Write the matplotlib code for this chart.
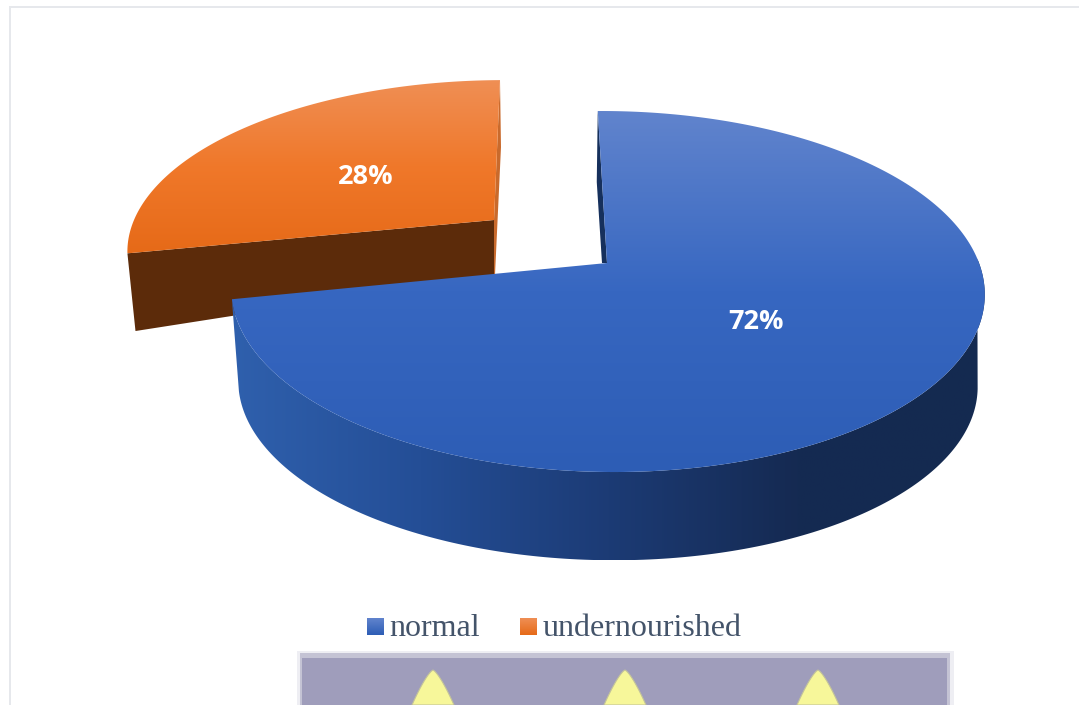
import numpy as np
import matplotlib
matplotlib.use('Agg')
import matplotlib.pyplot as plt
from matplotlib.colors import LinearSegmentedColormap
from matplotlib.patches import Polygon, Rectangle

categories = ['normal', 'undernourished']
shares = [72, 28]
labels = ['72%', '28%']

W, H = 1079, 705
START = -0.7
PERSP = 0.158


def project(theta, apex, a, b, shear=0.0):
    # titik pada lingkaran satuan -> layar, dengan perspektif sederhana
    t = np.radians(theta)
    u, v = np.sin(t), np.cos(t)
    d = 1 + PERSP * v
    y = -b * v / d
    x = a * u / d + shear * y
    return apex[0] + x, apex[1] + y


def gradient_fill(ax, pts, stops, horizontal=False, zorder=1):
    pts = np.asarray(pts)
    cmap = LinearSegmentedColormap.from_list('g', stops)
    x0, x1 = pts[:, 0].min(), pts[:, 0].max()
    y0, y1 = pts[:, 1].min(), pts[:, 1].max()
    g = np.linspace(0, 1, 256)
    g = g.reshape(1, -1) if horizontal else g.reshape(-1, 1)
    im = ax.imshow(g, cmap=cmap, extent=(x0, x1, y1, y0), aspect='auto',
                   vmin=0, vmax=1, zorder=zorder, interpolation='bilinear')
    patch = Polygon(pts, closed=True, transform=ax.transData, fc='none', ec='none')
    ax.add_patch(patch)
    im.set_clip_path(patch)


fig = plt.figure(figsize=(W / 100, H / 100), dpi=100)
ax = fig.add_axes([0, 0, 1, 1])
ax.set_xlim(0, W)
ax.set_ylim(H, 0)
ax.axis('off')

# bingkai
ax.add_patch(Rectangle((9, 6), W - 9, 2, fc='#e6e8ec', ec='none'))
ax.add_patch(Rectangle((9, 6), 2, H - 6, fc='#e6e8ec', ec='none'))

edges = START + np.cumsum([0] + shares) * 3.6
blue_th = np.linspace(edges[0], edges[1], 300)
orange_th = np.linspace(edges[1], edges[2], 120)

# irisan oranye (terpisah)
apex_o = (494, 220)
ox, oy = project(orange_th, apex_o, 360, 162, shear=-0.07)
low_apex_o = (494, 275)
low_x = apex_o[0] + (ox[0] - apex_o[0]) * 0.978
low_y = low_apex_o[1] + (oy[0] - apex_o[1]) * 1.68
ax.add_patch(Polygon([apex_o, (ox[0], oy[0]), (low_x, low_y), low_apex_o],
                     closed=True, fc='#5c2b0a', ec='none', zorder=2))
ax.add_patch(Polygon([(ox[-1], oy[-1]), (ox[-1] + 1, oy[-1] + 67),
                      (low_apex_o[0] + 1, low_apex_o[1]), low_apex_o, apex_o],
                     closed=True, fc='#c96a2c', ec='none', zorder=2))
gradient_fill(ax, list(zip(ox, oy)) + [apex_o],
              ['#ef8f55', '#f0782a', '#e66a18'], zorder=3)

# irisan biru: dinding lalu permukaan atas
apex_b = (607, 263)
SHEAR = 0.035
bx, by = project(blue_th, apex_b, 372, 176, shear=SHEAR)
lx, ly = project(blue_th, (apex_b[0], apex_b[1] + 93), 365, 172, shear=SHEAR)
rim_part = blue_th >= 88
low_part = blue_th >= 100
side = list(zip(bx[rim_part], by[rim_part])) + list(zip(lx[low_part][::-1], ly[low_part][::-1]))
gradient_fill(ax, side, ['#2f60ad', '#244e96', '#1c3b75', '#152a52', '#142a50'],
              horizontal=True, zorder=4)
ax.add_patch(Polygon([(bx[0], by[0]), (bx[0] - 1, by[0] + 71), (apex_b[0] - 5, apex_b[1]), apex_b],
                     closed=True, fc='#16305c', ec='none', zorder=4))
gradient_fill(ax, list(zip(bx, by)) + [apex_b],
              ['#6184cd', '#3767c1', '#2d5db5'], zorder=5)

ax.text(756, 322, labels[0], color='white', fontsize=19.5, fontweight='bold',
        family='Open Sans', ha='center', va='center', zorder=6)
ax.text(366, 177, labels[1], color='white', fontsize=19.5, fontweight='bold',
        family='Open Sans', ha='center', va='center', zorder=6)

# legenda
legend_x = [367, 520]
legend_colors = [['#6184cd', '#2d5db5'], ['#ef8f55', '#e66a18']]
for x, name, cols in zip(legend_x, categories, legend_colors):
    gradient_fill(ax, [(x, 618), (x + 17, 618), (x + 17, 635), (x, 635)], cols, zorder=6)
    ax.text(x + 22.5, 628, name, color='#44546a', fontsize=23,
            family='Liberation Serif', ha='left', va='center', zorder=6)

# gambar latar yang terpotong di bawah
ax.add_patch(Rectangle((297, 651), 657, 54, fc='#eeeef3', ec='none', zorder=1))
ax.add_patch(Rectangle((300, 653), 650, 52, fc='#c4c3d4', ec='none', zorder=1))
ax.add_patch(Rectangle((302, 658), 645, 47, fc='#9f9dbb', ec='none', zorder=1))
dy = np.linspace(0, 35, 30)
dw = 21 * (dy / 35) ** 0.75
for cx in [433, 625, 818]:
    drop = list(zip(cx - dw, 670 + dy)) + list(zip(cx + dw[::-1], 670 + dy[::-1]))
    ax.add_patch(Polygon(drop, closed=True, fc='#f7f79a', ec='#c4c49a', lw=0.8, zorder=2))

fig.savefig('out.png', dpi=100)
